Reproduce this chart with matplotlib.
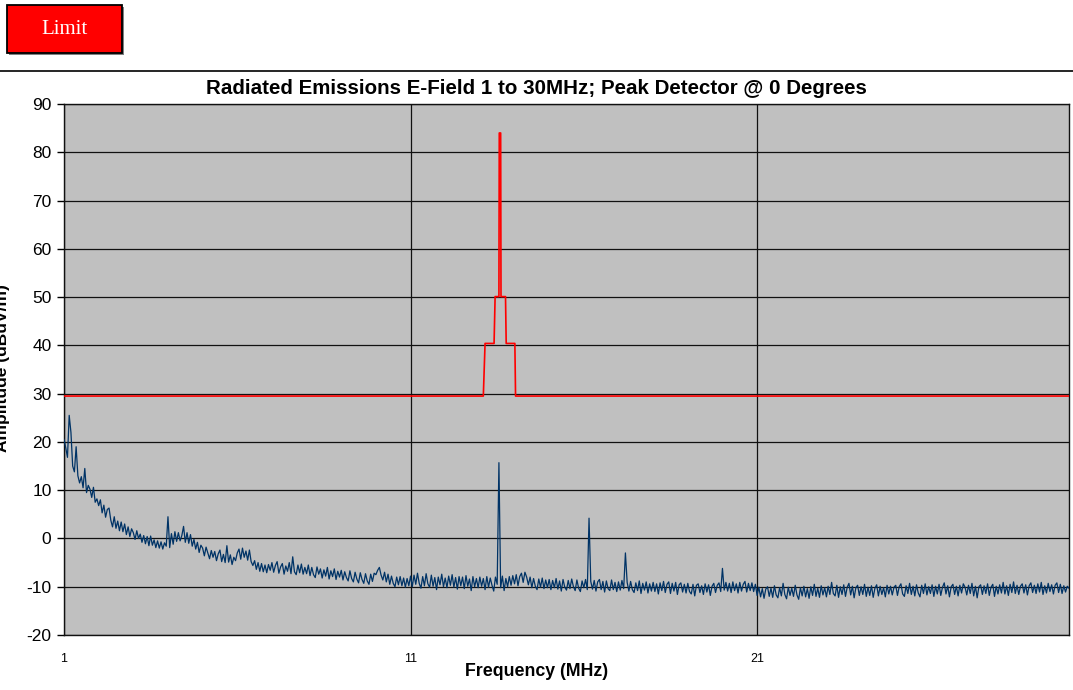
import numpy as np
import matplotlib
matplotlib.use("Agg")
import matplotlib.pyplot as plt
from matplotlib.patches import Rectangle
from matplotlib.lines import Line2D

# ---------------- data ----------------
title = "Radiated Emissions E-Field 1 to 30MHz; Peak Detector @ 0 Degrees"
x_label = "Frequency (MHz)"
y_label = "Amplitude (dBuV/m)"
legend_label = "Limit"

x_ticks = [1, 11, 21]
y_ticks = [-20, -10, 0, 10, 20, 30, 40, 50, 60, 70, 80, 90]

# limit line (frequency MHz, level dBuV/m)
limit_freq = [1.0, 13.10, 13.15, 13.41, 13.44, 13.55, 13.56, 13.60, 13.61,
              13.74, 13.76, 14.01, 14.03, 30.0]
limit_level = [29.5, 29.5, 40.4, 40.4, 50.1, 50.1, 84.0, 84.0, 50.1,
               50.1, 40.4, 40.4, 29.5, 29.5]

# measured trace, sampled every 0.05 MHz from 1.00 MHz to 30.00 MHz
trace_start = 1.0
trace_step = 0.05
trace_level = [
    20.5, 18.8, 16.8, 25.5, 22.0, 15.0, 13.8, 19.0, 13.0, 11.5, 12.8, 10.5, 14.5, 9.5, 11.0, 10.2, 8.5, 10.6, 7.5, 8.2,
    6.8, 8.0, 5.3, 6.9, 4.4, 6.0, 6.3, 3.8, 2.4, 4.5, 2.1, 3.6, 1.6, 3.4, 1.4, 3.0, 0.8, 2.4, 0.4, 2.0,
    1.2, -0.2, 1.6, 0.0, 0.9, -0.8, 0.6, -1.1, 0.4, -1.5, 0.5, -1.4, -0.3, -1.9, -0.5, -2.0, -0.7, -2.2, -0.9, -1.6,
    4.5, -1.9, 1.0, -1.2, 1.4, -0.6, 1.2, -0.5, 0.6, 2.5, -0.8, 1.2, -1.0, 0.8, -1.6, -0.2, -2.2, -0.8, -2.9, -1.4,
    -2.0, -3.6, -1.8, -3.0, -4.2, -2.5, -3.9, -2.7, -4.6, -3.2, -2.4, -4.8, -3.3, -5.0, -1.5, -4.9, -3.4, -5.4, -3.9, -4.6,
    -3.0, -2.2, -4.3, -2.0, -3.9, -2.6, -4.5, -2.4, -4.8, -5.6, -4.6, -6.4, -5.0, -6.8, -5.2, -6.9, -5.5, -7.1, -5.4, -6.6,
    -5.0, -7.0, -5.6, -4.8, -7.2, -5.9, -5.2, -7.4, -5.7, -6.8, -5.0, -7.3, -3.8, -6.9, -7.5, -5.5, -7.1, -5.3, -7.4, -6.0,
    -7.3, -5.5, -7.7, -6.0, -7.5, -8.1, -5.9, -7.4, -6.3, -8.2, -6.5, -7.8, -6.0, -8.4, -6.7, -7.9, -6.3, -8.5, -6.8, -8.0,
    -6.6, -8.6, -6.9, -8.1, -8.8, -6.7, -8.3, -9.0, -7.0, -8.4, -9.2, -7.1, -8.5, -9.3, -7.3, -8.8, -9.5, -7.4, -8.9, -7.2,
    -7.5, -6.6, -6.0, -7.6, -8.6, -7.0, -9.0, -7.4, -9.5, -7.8, -9.3, -10.0, -8.0, -9.6, -7.9, -9.8, -8.2, -10.1, -8.3, -9.8,
    -7.8, -10.0, -7.6, -9.5, -7.2, -9.3, -10.3, -7.9, -9.8, -7.3, -9.4, -10.1, -7.6, -9.9, -8.1, -10.6, -8.0, -9.6, -7.4, -10.0,
    -8.2, -10.2, -7.8, -9.7, -7.5, -10.1, -8.1, -10.5, -7.9, -9.8, -8.0, -10.4, -7.7, -9.9, -8.4, -10.8, -7.9, -10.0, -8.3, -10.2,
    -8.0, -9.9, -8.3, -10.6, -7.9, -10.1, -8.2, -9.7, -10.9, -8.0, -9.5, 15.7, -10.2, -7.8, -10.8, -8.3, -10.0, -7.9, -9.7, -7.7,
    -9.4, -7.5, -9.8, -7.9, -7.2, -9.1, -7.0, -8.0, -9.6, -8.0, -10.2, -8.3, -9.9, -10.6, -8.4, -10.1, -8.2, -10.4, -8.6, -10.2,
    -8.5, -10.6, -8.7, -10.2, -8.3, -10.5, -8.8, -10.9, -8.5, -10.1, -10.7, -8.7, -10.4, -8.4, -10.0, -10.8, -8.6, -10.3, -11.0, -8.8,
    -10.2, -8.5, -10.6, 4.2, -8.9, -10.5, -8.7, -10.9, -9.0, -8.5, -10.6, -8.9, -11.1, -8.8, -10.4, -10.8, -8.6, -10.6, -9.1, -11.0,
    -9.0, -10.7, -8.7, -10.4, -3.0, -9.1, -10.9, -8.9, -10.6, -11.2, -9.2, -10.8, -8.8, -11.4, -9.3, -10.7, -9.0, -11.3, -9.4, -10.9,
    -9.1, -11.0, -9.4, -11.5, -9.2, -10.8, -8.9, -11.2, -9.5, -9.0, -11.4, -9.3, -10.9, -9.1, -11.6, -9.6, -9.2, -11.1, -9.5, -11.3,
    -9.3, -11.0, -11.5, -9.5, -11.9, -9.7, -9.4, -11.2, -9.8, -11.6, -9.4, -11.1, -9.6, -11.8, -9.9, -9.3, -11.2, -9.7, -9.2, -11.0,
    -6.2, -10.7, -9.1, -10.9, -9.3, -11.2, -9.0, -10.8, -9.4, -11.3, -9.1, -10.9, -9.5, -8.9, -11.1, -9.3, -10.8, -9.2, -11.0, -9.5,
    -11.8, -10.1, -12.1, -10.4, -12.4, -10.5, -10.0, -12.0, -10.3, -12.2, -9.8, -11.7, -12.3, -10.2, -11.9, -9.3, -11.6, -12.5, -10.1, -11.8,
    -10.3, -12.0, -9.7, -11.7, -12.6, -10.2, -11.9, -9.9, -12.1, -10.4, -12.4, -10.0, -11.8, -9.5, -12.0, -10.3, -12.2, -9.8, -11.7, -10.2,
    -12.1, -9.9, -11.6, -9.1, -11.4, -11.9, -9.7, -12.2, -10.0, -11.6, -9.6, -12.0, -10.1, -9.3, -11.7, -9.9, -12.3, -10.2, -9.7, -11.8,
    -10.0, -11.6, -9.5, -12.0, -10.1, -11.8, -9.8, -12.2, -10.3, -9.6, -11.9, -9.9, -11.6, -10.2, -12.1, -9.7, -11.5, -9.9, -11.7, -10.1,
    -9.7, -11.8, -10.0, -9.4, -11.5, -12.0, -9.8, -11.4, -9.3, -11.6, -9.9, -11.9, -9.6, -11.3, -12.1, -9.7, -11.4, -9.4, -11.7, -10.0,
    -11.4, -9.6, -12.0, -9.9, -11.5, -9.5, -11.8, -10.1, -9.2, -11.5, -9.8, -12.1, -10.0, -9.5, -11.6, -9.9, -11.9, -9.7, -11.3, -9.4,
    -10.1, -11.7, -9.7, -11.4, -9.3, -11.9, -9.9, -12.3, -10.0, -9.6, -11.6, -9.8, -11.4, -9.4, -11.8, -10.1, -9.5, -12.0, -9.9, -11.5,
    -9.6, -11.3, -9.1, -11.5, -9.8, -11.8, -9.5, -11.2, -9.0, -11.4, -9.7, -11.6, -9.9, -9.4, -11.3, -9.6, -11.7, -9.8, -9.2, -11.2,
    -9.7, -11.4, -9.4, -11.1, -9.1, -11.6, -9.8, -11.3, -9.3, -11.0, -9.6, -11.5, -9.7, -9.2, -11.2, -9.5, -11.4, -9.8, -11.1, -9.9,
    -10.3,
]
trace_freq = trace_start + trace_step * np.arange(len(trace_level))

# ---------------- figure ----------------
W, H = 1073, 690
fig = plt.figure(figsize=(W / 100, H / 100), dpi=100)
fig.patch.set_facecolor("white")

left, right, top, bottom = 64, 1069, 104, 635
ax = fig.add_axes([left / W, 1 - bottom / H, (right - left) / W, (bottom - top) / H])
ax.set_facecolor("#C0C0C0")

ax.plot(trace_freq, trace_level, color="#003366", lw=0.9, zorder=3)
ax.plot(limit_freq, limit_level, color="#FF0000", lw=1.2, zorder=4)

ax.set_xlim(1, 30)
ax.set_ylim(-20, 90)
ax.set_xticks(x_ticks)
ax.set_xticklabels([str(t) for t in x_ticks], fontsize=9, family="Liberation Sans")
ax.set_yticks(y_ticks)
ax.set_yticklabels([str(t) for t in y_ticks], fontsize=12.5, family="Liberation Sans")
ax.tick_params(axis="x", length=0, pad=13)
ax.tick_params(axis="y", length=5, width=1, pad=4, direction="out")
ax.grid(True, color="#111111", lw=0.9, zorder=1)
ax.set_axisbelow(True)
for s in ax.spines.values():
    s.set_color("#111111")
    s.set_linewidth(1.0)

# title and axis labels
fig.text(0.5, 1 - 88 / H, title, ha="center", va="center",
         fontsize=14.8, fontweight="bold", family="Liberation Sans")
fig.text(0.5, 1 - 672 / H, x_label, ha="center", va="center",
         fontsize=12.8, fontweight="bold", family="Liberation Sans")
fig.text(3 / W, 1 - 368 / H, y_label, ha="center", va="center", rotation=90,
         fontsize=12.5, fontweight="bold", family="Liberation Sans")

# separator line
fig.add_artist(Line2D([0, 1], [1 - 71 / H, 1 - 71 / H], color="black", lw=1.2,
                      transform=fig.transFigure))

# legend box with shadow
fig.add_artist(Rectangle(((7 + 2) / W, 1 - (53 + 2) / H), 115 / W, 48 / H,
                         facecolor="#808080", edgecolor="none",
                         transform=fig.transFigure))
fig.add_artist(Rectangle((7 / W, 1 - 53 / H), 115 / W, 48 / H,
                         facecolor="#FF0000", edgecolor="black", lw=1.3,
                         transform=fig.transFigure))
fig.text(64.5 / W, 1 - 29 / H, legend_label, ha="center", va="center",
         color="white", fontsize=15, family="Liberation Serif")

fig.savefig("out.png", dpi=100)
